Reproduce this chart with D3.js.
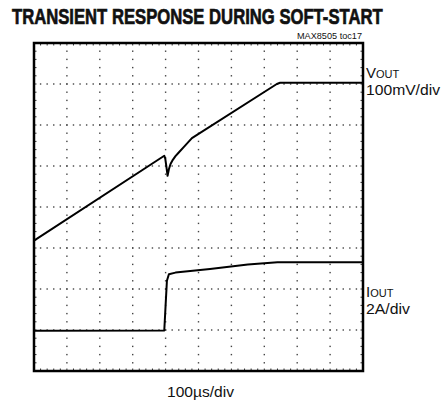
<html>
<head>
<script src="https://d3js.org/d3.v7.min.js"></script>
<style>
  body { margin: 0; background: #fff; }
  text { font-family: "Liberation Sans", Arial, sans-serif; fill: #111; }
</style>
</head>
<body>
<div id="chart"></div>
<script>
// scope trace data, in divisions (x: 0-10, y: 0-8 from bottom)
var voutX = [0, 3.96, 3.99, 4.03, 4.06, 4.1, 4.15, 4.22, 4.3, 4.4, 4.55, 4.8, 7.38, 7.48, 10];
var voutY = [3.18, 5.25, 5.18, 4.95, 4.76, 4.92, 5.05, 5.15, 5.24, 5.33, 5.46, 5.68, 7.0, 7.03, 7.03];

var ioutX = [0, 3.96, 4.0, 4.04, 4.1, 4.3, 5.35, 6.5, 7.4, 10];
var ioutY = [0.98, 0.99, 1.6, 2.2, 2.36, 2.4, 2.49, 2.6, 2.65, 2.65];

var xDivs = 10, yDivs = 8, minorPerDiv = 5;

var width = 446, height = 406;
var plotLeft = 34, plotRight = 363, plotTop = 43, plotBottom = 371;

var svg = d3.select("#chart")
    .append("svg")
    .attr("width", width)
    .attr("height", height);

var x = d3.scaleLinear().domain([0, xDivs]).range([plotLeft, plotRight]);
var y = d3.scaleLinear().domain([0, yDivs]).range([plotBottom, plotTop]);

// squeeze a text horizontally to a given width (condensed look)
function squeeze(sel, w) {
    var len = sel.node().getComputedTextLength();
    var sx = Math.min(1, w / len);
    var tx = +sel.attr("x"), ty = +sel.attr("y");
    sel.attr("x", 0).attr("y", 0)
       .attr("transform", "translate(" + tx + "," + ty + ") scale(" + sx + ",1)");
}

// title
var title = svg.append("text")
    .attr("x", 12).attr("y", 24)
    .style("font-size", "22px").style("font-weight", "bold")
    .style("stroke", "#111").style("stroke-width", 0.7)
    .text("TRANSIENT RESPONSE DURING SOFT-START");
squeeze(title, 371);

svg.append("text")
    .attr("x", 362).attr("y", 39)
    .attr("text-anchor", "end")
    .attr("textLength", 65).attr("lengthAdjust", "spacingAndGlyphs")
    .style("font-size", "9px")
    .text("MAX8505 toc17");

// dotted graticule
var minorX = d3.range(0, xDivs * minorPerDiv + 1).map(function(i) { return i / minorPerDiv; });
var minorY = d3.range(0, yDivs * minorPerDiv + 1).map(function(i) { return i / minorPerDiv; });
var dots = [];
d3.range(1, xDivs).forEach(function(gx) {
    minorY.forEach(function(my) { dots.push([gx, my]); });
});
d3.range(1, yDivs).forEach(function(gy) {
    minorX.forEach(function(mx) { dots.push([mx, gy]); });
});
svg.append("g")
    .selectAll("rect")
    .data(dots)
    .enter()
    .append("rect")
    .attr("x", function(d) { return x(d[0]) - 0.7; })
    .attr("y", function(d) { return y(d[1]) - 0.7; })
    .attr("width", 1.4).attr("height", 1.4)
    .attr("fill", "#444");

// minor ticks on the frame
var tickLen = 2.5;
var ticks = svg.append("g").attr("stroke", "#333").attr("stroke-width", 1);
minorX.forEach(function(mx) {
    ticks.append("line").attr("x1", x(mx)).attr("x2", x(mx)).attr("y1", plotTop).attr("y2", plotTop + tickLen);
    ticks.append("line").attr("x1", x(mx)).attr("x2", x(mx)).attr("y1", plotBottom).attr("y2", plotBottom - tickLen);
});
minorY.forEach(function(my) {
    ticks.append("line").attr("x1", plotLeft).attr("x2", plotLeft + tickLen).attr("y1", y(my)).attr("y2", y(my));
    ticks.append("line").attr("x1", plotRight).attr("x2", plotRight - tickLen).attr("y1", y(my)).attr("y2", y(my));
});

// frame
svg.append("rect")
    .attr("x", plotLeft).attr("y", plotTop)
    .attr("width", plotRight - plotLeft).attr("height", plotBottom - plotTop)
    .attr("fill", "none").attr("stroke", "#000").attr("stroke-width", 2.5);

// traces
var line = d3.line()
    .x(function(d) { return x(d[0]); })
    .y(function(d) { return y(d[1]); });

svg.append("path")
    .datum(d3.zip(voutX, voutY))
    .attr("fill", "none").attr("stroke", "#000").attr("stroke-width", 2)
    .attr("stroke-linejoin", "round")
    .attr("d", line);

svg.append("path")
    .datum(d3.zip(ioutX, ioutY))
    .attr("fill", "none").attr("stroke", "#000").attr("stroke-width", 2)
    .attr("stroke-linejoin", "round")
    .attr("d", line);

// channel labels
var v = svg.append("text").attr("x", 366).attr("y", 78).style("font-size", "15px");
v.append("tspan").text("V");
v.append("tspan").style("font-size", "11px").text("OUT");
svg.append("text").attr("x", 366).attr("y", 95)
    .attr("textLength", 74).attr("lengthAdjust", "spacingAndGlyphs")
    .style("font-size", "15px").text("100mV/div");

var io = svg.append("text").attr("x", 366).attr("y", 297).style("font-size", "15px");
io.append("tspan").text("I");
io.append("tspan").style("font-size", "11px").text("OUT");
svg.append("text").attr("x", 366).attr("y", 314)
    .attr("textLength", 44).attr("lengthAdjust", "spacingAndGlyphs")
    .style("font-size", "15px").text("2A/div");

svg.append("text")
    .attr("x", (plotLeft + plotRight) / 2 + 2).attr("y", 397)
    .attr("text-anchor", "middle")
    .attr("textLength", 67).attr("lengthAdjust", "spacingAndGlyphs")
    .style("font-size", "15px")
    .text("100\u00b5s/div");
</script>
</body>
</html>
